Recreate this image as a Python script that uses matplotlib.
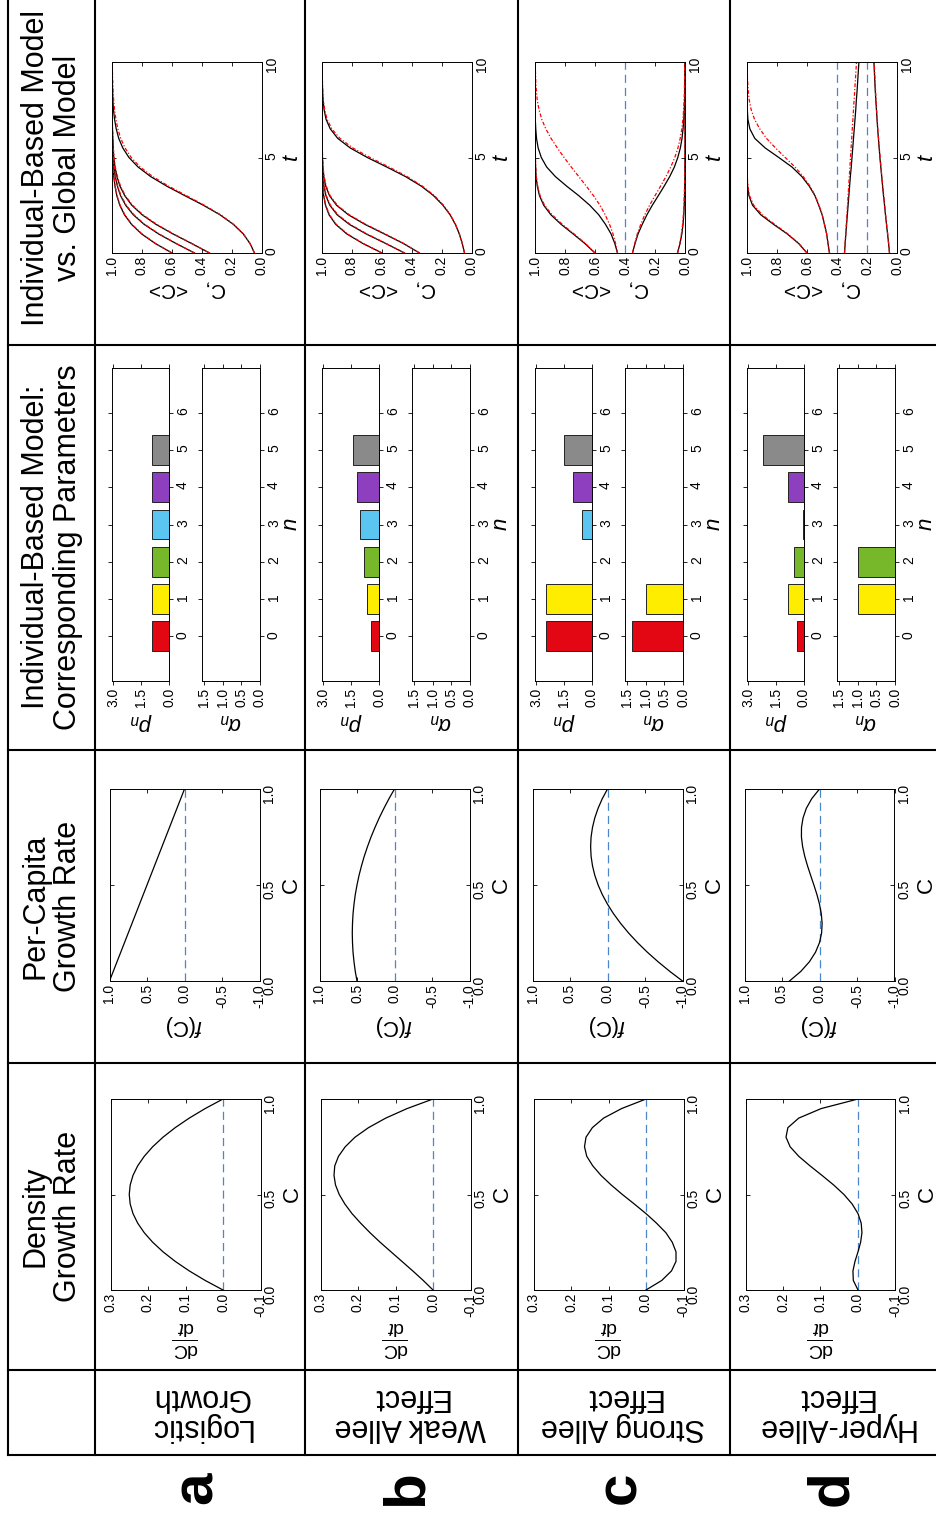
import matplotlib
matplotlib.use('Agg')
import matplotlib.pyplot as plt
from matplotlib.lines import Line2D
from matplotlib.ticker import FormatStrFormatter

plt.rcParams['font.family'] = ['Liberation Sans', 'DejaVu Sans']
plt.rcParams['mathtext.fontset'] = 'custom'
plt.rcParams['mathtext.rm'] = 'Liberation Sans'
plt.rcParams['mathtext.it'] = 'Liberation Sans:italic'
plt.rcParams['mathtext.bf'] = 'Liberation Sans:bold'
plt.rcParams['axes.unicode_minus'] = False

# ---- data ----
row_letters = ['a', 'b', 'c', 'd']
row_names = ['Logistic\nGrowth', 'Weak Allee\nEffect', 'Strong Allee\nEffect', 'Hyper-Allee\nEffect']
headers = ['Density\nGrowth Rate', 'Per-Capita\nGrowth Rate',
           'Individual-Based Model:\nCorresponding Parameters',
           'Individual-Based Model\nvs. Global Model']

conc = [0.0, 0.05, 0.1, 0.15, 0.2, 0.25, 0.3, 0.35, 0.4, 0.45, 0.5,
        0.55, 0.6, 0.65, 0.7, 0.75, 0.8, 0.85, 0.9, 0.95, 1.0]

# density growth rate dC/dt
dens_a = [0, 0.0475, 0.09, 0.1275, 0.16, 0.1875, 0.21, 0.2275, 0.24, 0.2475, 0.25,
          0.2475, 0.24, 0.2275, 0.21, 0.1875, 0.16, 0.1275, 0.09, 0.0475, 0]
dens_b = [0, 0.026, 0.054, 0.083, 0.112, 0.141, 0.168, 0.193, 0.216, 0.235, 0.25,
          0.26, 0.264, 0.262, 0.252, 0.234, 0.208, 0.172, 0.126, 0.069, 0]
dens_c = [0, -0.042, -0.068, -0.080, -0.080, -0.070, -0.053, -0.028, 0, 0.031, 0.063,
          0.093, 0.12, 0.142, 0.158, 0.164, 0.16, 0.143, 0.113, 0.065, 0]
dens_d = [0, 0.0125, 0.0135, 0.008, 0, -0.007, -0.0105, -0.0085, 0, 0.0155, 0.0375,
          0.065, 0.096, 0.128, 0.158, 0.181, 0.192, 0.187, 0.158, 0.098, 0]

# per-capita growth rate f(C)
fc_a = [1.0, 0.95, 0.9, 0.85, 0.8, 0.75, 0.7, 0.65, 0.6, 0.55, 0.5,
        0.45, 0.4, 0.35, 0.3, 0.25, 0.2, 0.15, 0.1, 0.05, 0.0]
fc_b = [0.5, 0.523, 0.54, 0.553, 0.56, 0.563, 0.56, 0.553, 0.54, 0.523, 0.5,
        0.473, 0.44, 0.403, 0.36, 0.313, 0.26, 0.203, 0.14, 0.073, 0.0]
fc_c = [-1.0, -0.831, -0.675, -0.531, -0.4, -0.281, -0.175, -0.081, 0.0, 0.069, 0.125,
        0.169, 0.2, 0.219, 0.225, 0.219, 0.2, 0.169, 0.125, 0.069, 0.0]
fc_d = [0.4, 0.249, 0.135, 0.053, 0.0, -0.028, -0.035, -0.024, 0.0, 0.034, 0.075,
        0.118, 0.16, 0.197, 0.225, 0.241, 0.24, 0.219, 0.175, 0.103, 0.0]

# individual-based model parameters
n_vals = [0, 1, 2, 3, 4, 5]
bar_colors = ['#e30613', '#ffed00', '#76b82a', '#5bc5f1', '#8e3fc0', '#8a8a8a']
p_a = [0.9, 0.9, 0.9, 0.9, 0.9, 0.9]
p_b = [0.45, 0.65, 0.82, 1.0, 1.2, 1.37]
p_c = [2.48, 2.48, 0.0, 0.52, 1.0, 1.49]
p_d = [0.36, 0.88, 0.52, 0.08, 0.88, 2.2]
alpha_a = [0, 0, 0, 0, 0, 0]
alpha_b = [0, 0, 0, 0, 0, 0]
alpha_c = [1.37, 1.0, 0, 0, 0, 0]
alpha_d = [0, 1.0, 1.0, 0, 0, 0]

# time courses: global model (black) and IBM (red)
time = [0, 0.5, 1, 1.5, 2, 2.5, 3, 3.5, 4, 4.5, 5,
        5.5, 6, 6.5, 7, 7.5, 8, 8.5, 9, 9.5, 10]
ode_a = [
    [0.05, 0.080, 0.125, 0.191, 0.280, 0.391, 0.514, 0.635, 0.742, 0.826, 0.887,
     0.928, 0.955, 0.972, 0.983, 0.990, 0.994, 0.996, 0.998, 0.999, 0.999],
    [0.35, 0.470, 0.594, 0.707, 0.799, 0.868, 0.915, 0.947, 0.967, 0.980, 0.988,
     0.992, 0.995, 0.997, 0.998, 0.999, 0.999, 1.0, 1.0, 1.0, 1.0],
    [0.45, 0.574, 0.690, 0.786, 0.858, 0.909, 0.943, 0.964, 0.978, 0.987, 0.992,
     0.995, 0.997, 0.998, 0.999, 0.999, 1.0, 1.0, 1.0, 1.0, 1.0],
    [0.6, 0.712, 0.803, 0.870, 0.917, 0.948, 0.968, 0.980, 0.988, 0.993, 0.996,
     0.997, 0.998, 0.999, 0.999, 1.0, 1.0, 1.0, 1.0, 1.0, 1.0]]
ibm_a = [
    [0.05, 0.080, 0.124, 0.189, 0.276, 0.384, 0.503, 0.622, 0.728, 0.812, 0.872,
     0.913, 0.942, 0.961, 0.974, 0.983, 0.989, 0.993, 0.995, 0.997, 0.998],
    [0.35, 0.468, 0.590, 0.702, 0.794, 0.863, 0.911, 0.943, 0.964, 0.978, 0.986,
     0.991, 0.994, 0.996, 0.998, 0.998, 0.999, 0.999, 1.0, 1.0, 1.0],
    [0.45, 0.572, 0.686, 0.782, 0.854, 0.905, 0.940, 0.962, 0.976, 0.985, 0.991,
     0.994, 0.996, 0.998, 0.998, 0.999, 0.999, 1.0, 1.0, 1.0, 1.0],
    [0.6, 0.710, 0.800, 0.867, 0.914, 0.946, 0.966, 0.979, 0.987, 0.992, 0.995,
     0.997, 0.998, 0.999, 0.999, 1.0, 1.0, 1.0, 1.0, 1.0, 1.0]]
ode_b = [
    [0.05, 0.065, 0.085, 0.111, 0.146, 0.194, 0.256, 0.338, 0.443, 0.568, 0.698,
     0.812, 0.895, 0.945, 0.973, 0.986, 0.993, 0.996, 0.998, 0.999, 1.0],
    [0.35, 0.458, 0.585, 0.714, 0.824, 0.903, 0.950, 0.975, 0.988, 0.994, 0.997,
     0.998, 0.999, 1.0, 1.0, 1.0, 1.0, 1.0, 1.0, 1.0, 1.0],
    [0.45, 0.576, 0.706, 0.818, 0.899, 0.948, 0.974, 0.987, 0.994, 0.997, 0.999,
     0.999, 1.0, 1.0, 1.0, 1.0, 1.0, 1.0, 1.0, 1.0, 1.0],
    [0.6, 0.728, 0.835, 0.909, 0.953, 0.977, 0.989, 0.995, 0.998, 0.999, 1.0,
     1.0, 1.0, 1.0, 1.0, 1.0, 1.0, 1.0, 1.0, 1.0, 1.0]]
ibm_b = [
    [0.05, 0.065, 0.084, 0.110, 0.144, 0.190, 0.250, 0.330, 0.432, 0.553, 0.680,
     0.795, 0.880, 0.935, 0.966, 0.982, 0.991, 0.995, 0.997, 0.999, 0.999],
    [0.35, 0.455, 0.580, 0.708, 0.818, 0.898, 0.946, 0.972, 0.986, 0.993, 0.996,
     0.998, 0.999, 1.0, 1.0, 1.0, 1.0, 1.0, 1.0, 1.0, 1.0],
    [0.45, 0.573, 0.701, 0.812, 0.894, 0.944, 0.971, 0.985, 0.993, 0.996, 0.998,
     0.999, 1.0, 1.0, 1.0, 1.0, 1.0, 1.0, 1.0, 1.0, 1.0],
    [0.6, 0.725, 0.831, 0.905, 0.950, 0.975, 0.988, 0.994, 0.997, 0.999, 0.999,
     1.0, 1.0, 1.0, 1.0, 1.0, 1.0, 1.0, 1.0, 1.0, 1.0]]
ode_c = [
    [0.05, 0.033, 0.021, 0.013, 0.008, 0.005, 0.003, 0.002, 0.001, 0.001, 0.0,
     0.0, 0.0, 0.0, 0.0, 0.0, 0.0, 0.0, 0.0, 0.0, 0.0],
    [0.35, 0.333, 0.313, 0.285, 0.254, 0.218, 0.178, 0.139, 0.102, 0.071, 0.048,
     0.031, 0.020, 0.013, 0.008, 0.005, 0.003, 0.002, 0.001, 0.001, 0.0],
    [0.45, 0.468, 0.493, 0.530, 0.575, 0.635, 0.708, 0.789, 0.864, 0.922, 0.958,
     0.979, 0.990, 0.995, 0.998, 0.999, 0.999, 1.0, 1.0, 1.0, 1.0],
    [0.6, 0.668, 0.746, 0.826, 0.894, 0.942, 0.970, 0.985, 0.993, 0.996, 0.998,
     0.999, 1.0, 1.0, 1.0, 1.0, 1.0, 1.0, 1.0, 1.0, 1.0]]
ibm_c = [
    [0.05, 0.035, 0.024, 0.016, 0.011, 0.007, 0.005, 0.003, 0.002, 0.001, 0.001,
     0.0, 0.0, 0.0, 0.0, 0.0, 0.0, 0.0, 0.0, 0.0, 0.0],
    [0.35, 0.335, 0.318, 0.295, 0.268, 0.236, 0.200, 0.163, 0.127, 0.095, 0.068,
     0.047, 0.032, 0.021, 0.014, 0.009, 0.006, 0.004, 0.003, 0.002, 0.001],
    [0.45, 0.463, 0.480, 0.503, 0.532, 0.567, 0.610, 0.658, 0.708, 0.758, 0.806,
     0.851, 0.893, 0.928, 0.955, 0.973, 0.985, 0.991, 0.995, 0.997, 0.998],
    [0.6, 0.664, 0.740, 0.818, 0.886, 0.936, 0.966, 0.982, 0.991, 0.995, 0.997,
     0.999, 1.0, 1.0, 1.0, 1.0, 1.0, 1.0, 1.0, 1.0, 1.0]]
ode_d = [
    [0.05, 0.056, 0.063, 0.070, 0.077, 0.083, 0.090, 0.096, 0.102, 0.108, 0.114,
     0.119, 0.124, 0.129, 0.133, 0.137, 0.141, 0.145, 0.148, 0.151, 0.154],
    [0.35, 0.3455, 0.341, 0.336, 0.331, 0.326, 0.321, 0.316, 0.311, 0.305, 0.300,
     0.295, 0.290, 0.285, 0.280, 0.275, 0.271, 0.266, 0.262, 0.258, 0.254],
    [0.45, 0.460, 0.469, 0.484, 0.499, 0.522, 0.547, 0.585, 0.634, 0.700, 0.788,
     0.879, 0.948, 0.981, 0.994, 0.998, 1.0, 1.0, 1.0, 1.0, 1.0],
    [0.6, 0.656, 0.732, 0.823, 0.908, 0.963, 0.987, 0.996, 0.999, 1.0, 1.0,
     1.0, 1.0, 1.0, 1.0, 1.0, 1.0, 1.0, 1.0, 1.0, 1.0]]
ibm_d = [
    [0.05, 0.056, 0.062, 0.069, 0.076, 0.082, 0.089, 0.095, 0.101, 0.107, 0.112,
     0.118, 0.123, 0.128, 0.132, 0.136, 0.140, 0.143, 0.146, 0.149, 0.152],
    [0.35, 0.346, 0.342, 0.338, 0.334, 0.330, 0.326, 0.322, 0.318, 0.314, 0.310,
     0.306, 0.302, 0.298, 0.294, 0.290, 0.286, 0.282, 0.278, 0.274, 0.270],
    [0.45, 0.460, 0.469, 0.483, 0.498, 0.520, 0.545, 0.580, 0.625, 0.680, 0.745,
     0.810, 0.870, 0.915, 0.950, 0.972, 0.985, 0.992, 0.996, 0.998, 0.999],
    [0.6, 0.654, 0.728, 0.815, 0.898, 0.955, 0.983, 0.994, 0.998, 0.999, 1.0,
     1.0, 1.0, 1.0, 1.0, 1.0, 1.0, 1.0, 1.0, 1.0, 1.0]]
steady_c = [0.4]
steady_d = [0.4, 0.2]

dens_all = [dens_a, dens_b, dens_c, dens_d]
fc_all = [fc_a, fc_b, fc_c, fc_d]
p_all = [p_a, p_b, p_c, p_d]
alpha_all = [alpha_a, alpha_b, alpha_c, alpha_d]
ode_all = [ode_a, ode_b, ode_c, ode_d]
ibm_all = [ibm_a, ibm_b, ibm_c, ibm_d]
steady_all = [[], [], steady_c, steady_d]

# ---- layout (everything is drawn turned by 90 degrees) ----
W, H = 936, 1514
fig = plt.figure(figsize=(W / 100, H / 100), dpi=100)
dash_blue = '#4a86c8'


def px_axes(x0, y0, x1, y1):
    return fig.add_axes([x0 / W, 1 - y1 / H, (x1 - x0) / W, (y1 - y0) / H])


def style(ax, direction='in'):
    ax.tick_params(axis='both', direction=direction, length=3, width=0.6,
                   top=True, bottom=True, left=True, right=True,
                   labelbottom=True, labelleft=False, labelright=True,
                   labelsize=10, pad=2, labelrotation=90)
    ax.yaxis.set_label_position('right')
    for s in ax.spines.values():
        s.set_linewidth(0.7)


cells = [95, 305, 518, 730]
for i, cx in enumerate(cells):
    x0 = cx + 15.5

    # density growth rate
    ax = px_axes(x0, 1099, x0 + 150, 1290)
    ax.axvline(0, color=dash_blue, lw=0.9, ls=(0, (6.5, 4)))
    ax.plot(dens_all[i], conc, color='k', lw=0.9)
    ax.set_xlim(0.3, -0.1)
    ax.set_ylim(0, 1)
    ax.set_xticks([0.3, 0.2, 0.1, 0.0, -0.1])
    ax.set_yticks([0, 0.5, 1.0])
    ax.xaxis.set_major_formatter(FormatStrFormatter('%.1f'))
    ax.yaxis.set_major_formatter(FormatStrFormatter('%.1f'))
    style(ax)
    ax.set_xlabel(r'$\frac{\mathrm{dC}}{\mathrm{d}t}$', rotation=180, fontsize=20, labelpad=2)
    ax.set_ylabel('C', rotation=90, fontsize=16, labelpad=3)

    # per-capita growth rate
    ax = px_axes(x0 - 1, 789, x0 + 149, 981)
    ax.axvline(0, color=dash_blue, lw=0.9, ls=(0, (6.5, 4)))
    ax.plot(fc_all[i], conc, color='k', lw=0.9)
    ax.set_xlim(1.0, -1.0)
    ax.set_ylim(0, 1)
    ax.set_xticks([1.0, 0.5, 0.0, -0.5, -1.0])
    ax.set_yticks([0, 0.5, 1.0])
    ax.xaxis.set_major_formatter(FormatStrFormatter('%.1f'))
    ax.yaxis.set_major_formatter(FormatStrFormatter('%.1f'))
    style(ax)
    ax.set_xlabel(r'$f$(C)', rotation=180, fontsize=16, labelpad=4)
    ax.set_ylabel('C', rotation=90, fontsize=16, labelpad=3)

    # IBM parameters p_n and alpha_n
    ax = px_axes(cx + 17, 368, cx + 74, 681)
    ax.barh(n_vals, p_all[i], height=0.8, color=bar_colors, edgecolor='#222222', lw=0.7)
    ax.set_xlim(3.05, 0)
    ax.set_ylim(-1.2, 7.2)
    ax.set_xticks([3.0, 1.5, 0.0])
    ax.set_yticks([0, 1, 2, 3, 4, 5, 6])
    ax.xaxis.set_major_formatter(FormatStrFormatter('%.1f'))
    style(ax, 'out')
    ax.set_xlabel(r'$p_n$', rotation=180, fontsize=16, labelpad=3)

    ax = px_axes(cx + 107, 368, cx + 165, 681)
    ax.barh(n_vals, alpha_all[i], height=0.8, color=bar_colors, edgecolor='#222222', lw=0.7)
    ax.set_xlim(1.56, 0)
    ax.set_ylim(-1.2, 7.2)
    ax.set_xticks([1.5, 1.0, 0.5, 0.0])
    ax.set_yticks([0, 1, 2, 3, 4, 5, 6])
    ax.xaxis.set_major_formatter(FormatStrFormatter('%.1f'))
    style(ax, 'out')
    ax.set_xlabel(r'$\alpha_n$', rotation=180, fontsize=16, labelpad=3)
    ax.set_ylabel(r'$n$', rotation=90, fontsize=16, labelpad=0)

    # IBM vs global model
    ax = px_axes(cx + 17, 62, cx + 167, 253)
    for level in steady_all[i]:
        ax.axvline(level, color=dash_blue, lw=0.9, ls=(0, (6.5, 4)))
    for curve in ode_all[i]:
        ax.plot(curve, time, color='k', lw=0.9)
    for curve in ibm_all[i]:
        ax.plot(curve, time, color='red', lw=0.9, ls=(0, (3, 1.5, 1, 1.5)))
    ax.set_xlim(1.0, 0.0)
    ax.set_ylim(0, 10)
    ax.set_xticks([1.0, 0.8, 0.6, 0.4, 0.2, 0.0])
    ax.set_yticks([0, 5, 10])
    ax.xaxis.set_major_formatter(FormatStrFormatter('%.1f'))
    style(ax)
    ax.set_xlabel('C,   <C>', rotation=180, fontsize=15, labelpad=3)
    ax.set_ylabel(r'$t$', rotation=90, fontsize=16, labelpad=2)

    # row label and panel letter
    fig.text((cx + 105) / W, 1 - 1412 / H, row_names[i], rotation=180,
             ha='center', va='center', fontsize=22, linespacing=1.0)
    fig.text((cx + 102) / W, 1 - 1488 / H, row_letters[i], rotation=90,
             ha='center', va='center', fontsize=42, fontweight='bold')

# column headers
for text, yc in zip(headers, [1216, 906, 547, 168]):
    fig.text(52 / W, 1 - yc / H, text, rotation=90, ha='center', va='center',
             fontsize=22, linespacing=1.1, multialignment='center')

# table grid


def hline(y, x0=8, x1=936):
    fig.add_artist(Line2D([x0 / W, x1 / W], [1 - y / H, 1 - y / H],
                          transform=fig.transFigure, color='k', lw=1.5))


def vline(x, y0=0, y1=1455):
    fig.add_artist(Line2D([x / W, x / W], [1 - y0 / H, 1 - y1 / H],
                          transform=fig.transFigure, color='k', lw=1.5))


for y in [345, 750, 1063, 1370, 1455]:
    hline(y)
for x in [8, 95, 305, 518, 730]:
    vline(x)

fig.savefig('out.png', dpi=100)
